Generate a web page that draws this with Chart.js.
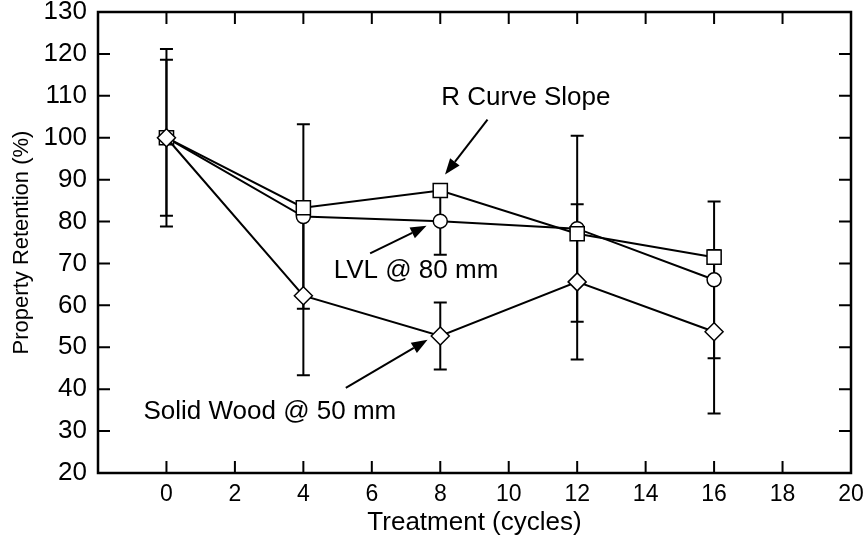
<!DOCTYPE html>
<html>
<head>
<meta charset="utf-8">
<script src="https://cdn.jsdelivr.net/npm/chart.js@4"></script>
<style>
  body { margin: 0; background: #fff; }
  #wrap { width: 868px; height: 544px; }
</style>
</head>
<body>
<div id="wrap"><canvas id="retentionChart"></canvas></div>
<script>
// values
const cycles = [0, 4, 8, 12, 16];
const rCurveSlope = [100, 83.3, 87.4, 77.1, 71.5];
const lvl80 = [100, 81.2, 80.1, 78.3, 66.1];
const lvl80Err = [21.2, 22, 8, 22.2, 18.7];
const solid50 = [100, 62.3, 52.7, 65.6, 53.7];
const solid50Err = [18.6, 19, 8, 18.5, 19.5];
const xTicks = [0, 2, 4, 6, 8, 10, 12, 14, 16, 18, 20];
const yTicks = [20, 30, 40, 50, 60, 70, 80, 90, 100, 110, 120, 130];

const FONT = "'Liberation Sans', Arial, Helvetica, sans-serif";
const toPts = (ys) => cycles.map((c, i) => ({ x: c, y: ys[i] }));

// annotations in data units: label position, arrow start, arrow tip
const notes = [
    { text: 'R Curve Slope', at: [10.5, 109.6], from: [9.38, 104.3], to: [8.14, 91.2] },
    { text: 'LVL @ 80 mm', at: [7.29, 68.2], from: [5.95, 72.4], to: [7.6, 79.0] },
    { text: 'Solid Wood @ 50 mm', at: [3.02, 34.6], from: [5.24, 40.3], to: [7.63, 51.8] }
];

/* === error bars, frame, inward ticks === */
const framePlugin = {
    id: 'frame',
    beforeDatasetsDraw(chart) {
        const { ctx, scales: { x, y } } = chart;
        ctx.save();
        ctx.strokeStyle = '#000';
        ctx.lineWidth = 2;
        [[lvl80, lvl80Err], [solid50, solid50Err]].forEach(([vals, errs]) => {
            cycles.forEach((c, i) => {
                const px = x.getPixelForValue(c);
                const top = y.getPixelForValue(vals[i] + errs[i]);
                const bot = y.getPixelForValue(vals[i] - errs[i]);
                ctx.beginPath();
                ctx.moveTo(px, top); ctx.lineTo(px, bot);
                ctx.moveTo(px - 6.5, top); ctx.lineTo(px + 6.5, top);
                ctx.moveTo(px - 6.5, bot); ctx.lineTo(px + 6.5, bot);
                ctx.stroke();
            });
        });
        ctx.restore();
    },
    afterDraw(chart) {
        const { ctx, chartArea: a, scales: { x, y } } = chart;
        const len = 12;
        ctx.save();
        ctx.strokeStyle = '#000';
        ctx.lineWidth = 2.5;
        ctx.strokeRect(a.left, a.top, a.right - a.left, a.bottom - a.top);
        ctx.lineWidth = 2;
        ctx.beginPath();
        xTicks.forEach(v => {
            const px = x.getPixelForValue(v);
            ctx.moveTo(px, a.bottom); ctx.lineTo(px, a.bottom - len);
            ctx.moveTo(px, a.top); ctx.lineTo(px, a.top + len);
        });
        yTicks.forEach(v => {
            const py = y.getPixelForValue(v);
            ctx.moveTo(a.left, py); ctx.lineTo(a.left + len, py);
            ctx.moveTo(a.right, py); ctx.lineTo(a.right - len, py);
        });
        ctx.stroke();

        // labels and arrows
        ctx.fillStyle = '#000';
        ctx.font = '26px ' + FONT;
        ctx.textAlign = 'center';
        ctx.textBaseline = 'middle';
        notes.forEach(n => {
            ctx.fillText(n.text, x.getPixelForValue(n.at[0]), y.getPixelForValue(n.at[1]));
            const x0 = x.getPixelForValue(n.from[0]), y0 = y.getPixelForValue(n.from[1]);
            const x1 = x.getPixelForValue(n.to[0]), y1 = y.getPixelForValue(n.to[1]);
            const ang = Math.atan2(y1 - y0, x1 - x0);
            const hl = 16, hw = 6;
            const bx = x1 - hl * Math.cos(ang), by = y1 - hl * Math.sin(ang);
            ctx.beginPath();
            ctx.moveTo(x0, y0); ctx.lineTo(bx, by);
            ctx.stroke();
            ctx.beginPath();
            ctx.moveTo(x1, y1);
            ctx.lineTo(bx + hw * Math.sin(ang), by - hw * Math.cos(ang));
            ctx.lineTo(bx - hw * Math.sin(ang), by + hw * Math.cos(ang));
            ctx.closePath();
            ctx.fill();
        });
        ctx.restore();
    }
};

const series = (label, ys, style, r) => ({
    label, data: toPts(ys),
    borderColor: '#000', borderWidth: 2,
    pointStyle: style, pointRadius: r, pointHoverRadius: r,
    pointBackgroundColor: '#fff', pointBorderColor: '#000', pointBorderWidth: 1.5,
    tension: 0, fill: false
});

new Chart(document.getElementById('retentionChart'), {
    type: 'line',
    data: {
        datasets: [
            series('Solid Wood @ 50 mm', solid50, 'rectRot', 9),
            series('R Curve Slope', rCurveSlope, 'rect', 10),
            series('LVL @ 80 mm', lvl80, 'circle', 7)
        ]
    },
    options: {
        responsive: true,
        maintainAspectRatio: false,
        animation: false,
        layout: { padding: { top: 12, right: 17, left: 0, bottom: 0 } },
        plugins: { legend: { display: false }, tooltip: { enabled: false } },
        scales: {
            x: {
                type: 'linear', min: -2, max: 20,
                afterBuildTicks: s => { s.ticks = xTicks.map(v => ({ value: v })); },
                afterFit: s => { s.height = 71; s.paddingLeft = 0; s.paddingRight = 0; },
                grid: { display: false, drawTicks: false },
                border: { display: false },
                ticks: { color: '#000', padding: 8, font: { family: FONT, size: 23 } },
                title: { display: true, text: 'Treatment (cycles)', color: '#000',
                         padding: { top: 0, bottom: 6 }, font: { family: FONT, size: 26 } }
            },
            y: {
                min: 20, max: 130,
                afterBuildTicks: s => { s.ticks = yTicks.map(v => ({ value: v })); },
                afterFit: s => { s.width = 98; s.paddingTop = 0; s.paddingBottom = 0; },
                grid: { display: false, drawTicks: false },
                border: { display: false },
                ticks: { color: '#000', padding: 11, font: { family: FONT, size: 26 } },
                title: { display: true, text: 'Property Retention (%)', color: '#000',
                         padding: { top: 9, bottom: 0 }, font: { family: FONT, size: 22 } }
            }
        }
    },
    plugins: [framePlugin]
});
</script>
</body>
</html>
